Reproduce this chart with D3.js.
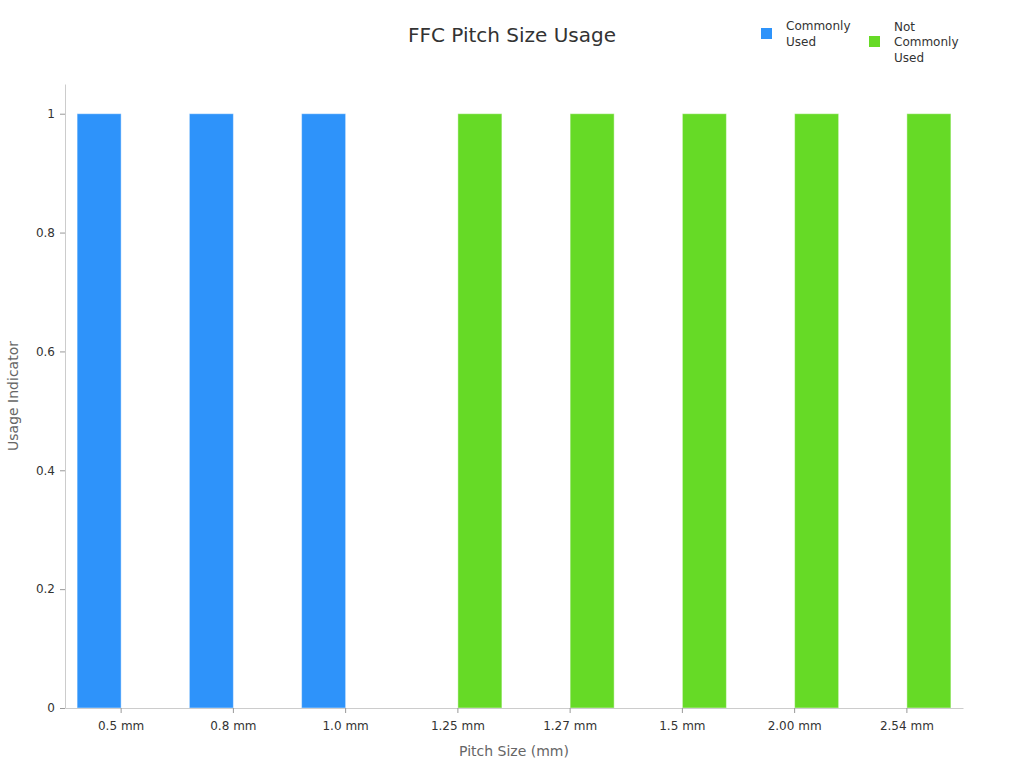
<!DOCTYPE html>
<html>
<head>
<meta charset="utf-8">
<script src="https://cdn.jsdelivr.net/npm/d3@7"></script>
<style>
  body { margin: 0; background: #fff; }
  svg { font-family: "DejaVu Sans", sans-serif; }
</style>
</head>
<body>
<svg id="chart"></svg>
<script>
const categories = ['0.5 mm', '0.8 mm', '1.0 mm', '1.25 mm', '1.27 mm', '1.5 mm', '2.00 mm', '2.54 mm'];
const seriesNames = ['Commonly Used', 'Not Commonly Used'];
const commonlyUsed = [1, 1, 1, 0, 0, 0, 0, 0];
const notCommonlyUsed = [0, 0, 0, 1, 1, 1, 1, 1];
const yTicks = [0, 0.2, 0.4, 0.6, 0.8, 1];
const colors = ['#2E93FA', '#66DA26'];

const svgWidth = 1024;
const svgHeight = 768;
const padding = { top: 84, right: 61, bottom: 60, left: 65 };

const svg = d3.select('#chart')
  .attr('width', svgWidth)
  .attr('height', svgHeight);

// Scales
const x = d3.scaleBand()
  .domain(categories)
  .range([padding.left, svgWidth - padding.right])
  .paddingInner(0)
  .paddingOuter(0);

const xSub = d3.scaleBand()
  .domain(seriesNames)
  .range([0, x.bandwidth()])
  .paddingOuter(0.275)
  .paddingInner(0);

const y = d3.scaleLinear()
  .domain([0, 1.05])
  .range([svgHeight - padding.bottom, padding.top]);

// Title
svg.append('text')
  .attr('x', 512)
  .attr('y', 42)
  .attr('text-anchor', 'middle')
  .attr('fill', '#333')
  .style('font-size', '20px')
  .text('FFC Pitch Size Usage');

// Bars
const series = [commonlyUsed, notCommonlyUsed];
series.forEach((vals, si) => {
  svg.append('g')
    .selectAll('rect')
    .data(vals.map((v, i) => ({ cat: categories[i], v })).filter(d => d.v > 0))
    .join('rect')
    .attr('x', d => x(d.cat) + xSub(seriesNames[si]))
    .attr('y', d => y(d.v))
    .attr('width', xSub.bandwidth())
    .attr('height', d => y(0) - y(d.v))
    .attr('fill', colors[si])
    .attr('stroke', 'rgba(255,255,255,0.45)')
    .attr('stroke-width', 1);
});

// Axes
const xAxis = svg.append('g')
  .attr('transform', `translate(0, ${y(0)})`)
  .call(d3.axisBottom(x).tickSize(5).tickSizeOuter(0));
xAxis.select('.domain').attr('stroke', '#ccc');
xAxis.selectAll('.tick line').attr('stroke', '#999');
xAxis.selectAll('.tick text')
  .attr('fill', '#333')
  .attr('dy', '1.2em')
  .style('font-size', '12px')
  .style('font-family', '"DejaVu Sans", sans-serif');

const yAxis = svg.append('g')
  .attr('transform', `translate(${padding.left}, 0)`)
  .call(d3.axisLeft(y).tickValues(yTicks).tickFormat(d3.format('~g')).tickSize(5).tickSizeOuter(0));
yAxis.select('.domain').attr('stroke', '#ccc');
yAxis.selectAll('.tick line').attr('stroke', '#999');
yAxis.selectAll('.tick text')
  .attr('fill', '#333')
  .attr('x', -10)
  .style('font-size', '12px')
  .style('font-family', '"DejaVu Sans", sans-serif');

// Axis titles
svg.append('text')
  .attr('x', 514)
  .attr('y', 756)
  .attr('text-anchor', 'middle')
  .attr('fill', '#666')
  .style('font-size', '14px')
  .text('Pitch Size (mm)');

svg.append('text')
  .attr('transform', 'translate(18, 396) rotate(-90)')
  .attr('text-anchor', 'middle')
  .attr('fill', '#666')
  .style('font-size', '14px')
  .text('Usage Indicator');

// Legend
const legendItems = [
  { lines: ['Commonly', 'Used'], x: 761, y: 28 },
  { lines: ['Not', 'Commonly', 'Used'], x: 869, y: 36 }
];
const legend = svg.append('g');
legendItems.forEach((item, i) => {
  const g = legend.append('g');
  g.append('rect')
    .attr('x', item.x)
    .attr('y', item.y)
    .attr('width', 11)
    .attr('height', 11)
    .attr('fill', colors[i]);
  const t = g.append('text')
    .attr('x', item.x + 25)
    .attr('y', item.y + 6 - (item.lines.length - 1) * 15.5 / 2)
    .attr('fill', '#333')
    .style('font-size', '12px');
  item.lines.forEach((ln, j) => {
    t.append('tspan')
      .attr('x', item.x + 25)
      .attr('dy', j === 0 ? '0.35em' : 15.5)
      .text(ln);
  });
});
</script>
</body>
</html>
